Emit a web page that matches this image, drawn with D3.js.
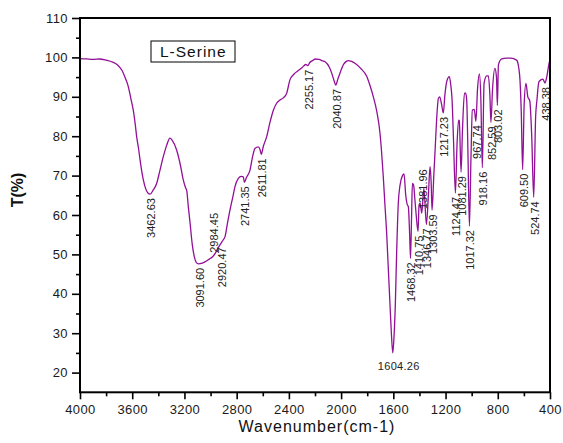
<!DOCTYPE html>
<html>
<head>
<meta charset="utf-8">
<script src="https://cdn.jsdelivr.net/npm/d3@7"></script>
<style>
  body { margin: 0; background: #fff; }
  svg { display: block; }
  text { font-family: Arial, "Liberation Sans", sans-serif; }
</style>
</head>
<body>
<svg id="chart" width="563" height="443"></svg>
<script>
// FTIR transmission spectrum of L-Serine (wavenumber in cm-1, transmittance in %)
const wavenumber = [
  4000, 3950, 3900, 3850, 3800, 3750, 3710, 3680, 3650, 3630, 3610, 3592, 3575, 3566, 3550, 3540,
  3515, 3495, 3480, 3462.63, 3440, 3413, 3390, 3362, 3335, 3311, 3295, 3260, 3230, 3209, 3190, 3183,
  3170, 3157, 3140, 3125, 3110, 3091.6, 3070, 3043, 3010, 2984.45, 2960, 2945, 2920.47, 2905, 2889,
  2870, 2851, 2830, 2813, 2787, 2765, 2749, 2741.35, 2725, 2698, 2680, 2660, 2634, 2620, 2611.81,
  2595, 2570, 2545, 2519, 2495, 2468, 2440, 2417, 2392, 2360, 2330, 2300, 2270, 2255.17, 2240, 2213,
  2200, 2170, 2140, 2123, 2090, 2072, 2055, 2040.87, 2025, 2009, 1980, 1960, 1945, 1920, 1894, 1850,
  1804, 1780, 1753, 1725, 1702, 1690, 1677, 1665, 1651, 1640, 1626, 1615, 1604.26, 1595, 1585, 1575,
  1562, 1549, 1530, 1518, 1505, 1495, 1485, 1475, 1468.32, 1460, 1454, 1445, 1435, 1425, 1410.75,
  1403, 1395, 1381.96, 1366, 1346.77, 1330, 1319, 1310, 1303.59, 1290, 1280, 1265, 1255, 1245, 1230,
  1217.23, 1205, 1190, 1171, 1160, 1150, 1140, 1124.47, 1112, 1100, 1095, 1081.29, 1070, 1055, 1046,
  1038, 1028, 1017.32, 1005, 995, 980, 967.74, 955, 941, 930, 918.16, 905, 885, 872, 860, 852.59,
  840, 822, 810, 803.02, 795, 770, 733, 700, 656, 640, 630, 620, 609.5, 598, 584, 570, 555, 540,
  524.74, 510, 500, 485, 470, 455, 438.38, 425, 410, 400
];
const transmittance = [
  99.7, 99.6, 99.5, 99.6, 99.3, 98.8, 98.0, 96.8, 94.5, 92.6, 89.5, 86.6, 82.5, 79.9, 76.5, 74.0,
  68.9, 66.5, 65.6, 65.3, 66.3, 68.0, 71.0, 74.8, 77.8, 79.5, 79.0, 76.5, 72.5, 68.9, 66.8, 66.3,
  62.0, 58.0, 52.5, 49.5, 48.0, 47.6, 47.7, 48.1, 48.8, 49.4, 50.5, 51.5, 52.8, 53.6, 54.5,
  58.0, 61.3, 64.5, 67.2, 69.3, 69.8, 69.7, 68.3, 69.5, 71.4, 74.5, 76.9, 77.3, 76.5, 75.4,
  77.5, 79.9, 83.5, 86.6, 88.3, 89.2, 89.8, 90.9, 94.3, 95.8, 96.6, 97.4, 98.2, 97.9, 98.7, 99.3,
  99.6, 99.5, 99.1, 98.9, 97.5, 96.0, 94.2, 93.0, 94.5, 96.0, 98.3, 99.0, 99.2, 99.0, 98.5, 97.2,
  95.2, 93.0, 90.0, 86.0, 80.7, 76.0, 69.7, 63.0, 55.3, 47.5, 37.6, 30.0, 25.0, 29.0, 37.0, 50.0,
  63.0, 67.5, 70.0, 70.4, 65.0, 62.8, 62.1, 55.0, 49.0, 60.0, 68.0, 67.6, 64.0, 60.0, 55.8,
  62.5, 63.0, 60.5, 66.8, 57.6, 66.0, 72.3, 68.0, 61.2, 70.0, 76.5, 86.0, 89.6, 90.0, 88.0,
  85.9, 90.5, 94.0, 95.1, 93.0, 89.2, 80.0, 65.6, 78.0, 84.1, 84.0, 70.9, 82.0, 90.9, 90.9,
  89.2, 75.0, 57.2, 75.0, 86.6, 86.8, 83.8, 92.0, 95.8, 90.0, 72.0, 93.4, 95.3, 95.3, 90.0, 83.5,
  92.0, 97.2, 95.0, 87.8, 98.1, 99.6, 99.8, 99.8, 99.3, 97.5, 94.3, 86.0, 71.5, 88.0, 93.4, 90.0, 89.0, 80.0,
  64.5, 85.0, 89.2, 93.8, 94.3, 94.5, 93.5, 95.0, 98.0, 99.5
];

// Peak annotations: [wavenumber, transmittance at the band]
const peaksBelow = [
  [3462.63, 65.3], [3091.60, 47.6], [2920.47, 52.8], [2741.35, 68.3], [2611.81, 75.4],
  [2255.17, 97.9], [2040.87, 93.0], [1468.32, 49.0], [1410.75, 55.8], [1346.77, 57.6],
  [1303.59, 61.2], [1217.23, 85.9], [1124.47, 65.6], [1081.29, 70.9], [1017.32, 57.2],
  [967.74, 83.8], [918.16, 72.0], [852.59, 83.5], [803.02, 87.8], [609.50, 71.5],
  [524.74, 64.5], [438.38, 93.5]
];
const peaksAbove = [[2984.45, 49.4], [1381.96, 60.5]];
const strongestPeak = [1604.26, 25.0];

const xTicks = [4000, 3600, 3200, 2800, 2400, 2000, 1600, 1200, 800, 400];
const xMinorTicks = [3800, 3400, 3000, 2600, 2200, 1800, 1400, 1000, 600];
const yTicks = [20, 30, 40, 50, 60, 70, 80, 90, 100, 110];
const yMinorTicks = [25, 35, 45, 55, 65, 75, 85, 95, 105];
const sampleName = "L-Serine";
const xTitle = "Wavenumber(cm-1)";
const yTitle = "T(%)";

const svg = d3.select("#chart");
const plotLeft = 80, plotRight = 550, plotTop = 18, plotBottom = 392.3;

const x = d3.scaleLinear().domain([4000, 400]).range([plotLeft, plotRight]);
const y = d3.scaleLinear().domain([15, 110]).range([plotBottom, plotTop]);

const lineColor = "#920f97";

// spectrum trace
const points = wavenumber.map((w, i) => [w, transmittance[i]]);
svg.append("path")
  .datum(points)
  .attr("fill", "none")
  .attr("stroke", lineColor)
  .attr("stroke-width", 1.3)
  .attr("stroke-linejoin", "round")
  .attr("d", d3.line().x(d => x(d[0])).y(d => y(d[1])).curve(d3.curveMonotoneX));

// axes
function styleAxis(g, fontSize) {
  g.select(".domain").remove();
  g.selectAll(".tick line").attr("stroke", "#000").attr("stroke-width", 1.6);
  g.selectAll(".tick text")
    .attr("fill", "#1a1a1a")
    .style("font-size", fontSize + "px")
    .style("letter-spacing", "0.4px")
    .style("font-family", "Arial, 'Liberation Sans', sans-serif");
}

svg.append("g")
  .attr("transform", `translate(0,${plotBottom})`)
  .call(d3.axisBottom(x).tickValues(xTicks).tickSize(7).tickPadding(5).tickFormat(d3.format("d")))
  .call(g => styleAxis(g, 13));
svg.append("g")
  .attr("transform", `translate(0,${plotBottom})`)
  .call(d3.axisBottom(x).tickValues(xMinorTicks).tickSize(4).tickFormat(""))
  .call(g => styleAxis(g, 13));

svg.append("g")
  .attr("transform", `translate(${plotLeft},0)`)
  .call(d3.axisLeft(y).tickValues(yTicks).tickSize(8).tickPadding(4).tickFormat(d3.format("d")))
  .call(g => styleAxis(g, 13));
svg.append("g")
  .attr("transform", `translate(${plotLeft},0)`)
  .call(d3.axisLeft(y).tickValues(yMinorTicks).tickSize(4).tickFormat(""))
  .call(g => styleAxis(g, 13));

// plot frame
svg.append("rect")
  .attr("x", plotLeft).attr("y", plotTop)
  .attr("width", plotRight - plotLeft).attr("height", plotBottom - plotTop)
  .attr("fill", "none").attr("stroke", "#000").attr("stroke-width", 2);

// axis titles
svg.append("text")
  .attr("x", (plotLeft + plotRight) / 2 + 2).attr("y", 432)
  .attr("text-anchor", "middle")
  .style("font-size", "16px").style("letter-spacing", "1px")
  .attr("fill", "#111")
  .text(xTitle);
svg.append("text")
  .attr("transform", `translate(23,190) rotate(-90)`)
  .attr("text-anchor", "middle")
  .style("font-size", "16px").style("font-weight", "bold")
  .attr("fill", "#111")
  .text(yTitle);

// peak labels
const labels = svg.append("g").attr("fill", "#222").style("font-size", "11px");
labels.selectAll("text.below")
  .data(peaksBelow).join("text")
  .attr("class", "below")
  .attr("transform", d => `translate(${x(d[0])},${y(d[1]) + 4}) rotate(-90)`)
  .attr("text-anchor", "end")
  .attr("dy", "0.45em")
  .text(d => d[0].toFixed(2));
labels.selectAll("text.above")
  .data(peaksAbove).join("text")
  .attr("class", "above")
  .attr("transform", d => `translate(${x(d[0])},${y(d[1]) - 4}) rotate(-90)`)
  .attr("text-anchor", "start")
  .attr("dy", "0.45em")
  .text(d => d[0].toFixed(2));
labels.append("text")
  .attr("x", x(strongestPeak[0]) + 6).attr("y", y(strongestPeak[1]) + 17)
  .attr("text-anchor", "middle")
  .style("letter-spacing", "0.3px")
  .text(strongestPeak[0].toFixed(2));

// sample legend box
svg.append("rect")
  .attr("x", 151).attr("y", 41).attr("width", 84).attr("height", 21)
  .attr("fill", "#fff").attr("stroke", "#000").attr("stroke-width", 1);
svg.append("text")
  .attr("x", 160).attr("y", 57)
  .style("font-size", "15.5px").style("letter-spacing", "1px")
  .attr("fill", "#111")
  .text(sampleName);
</script>
</body>
</html>
